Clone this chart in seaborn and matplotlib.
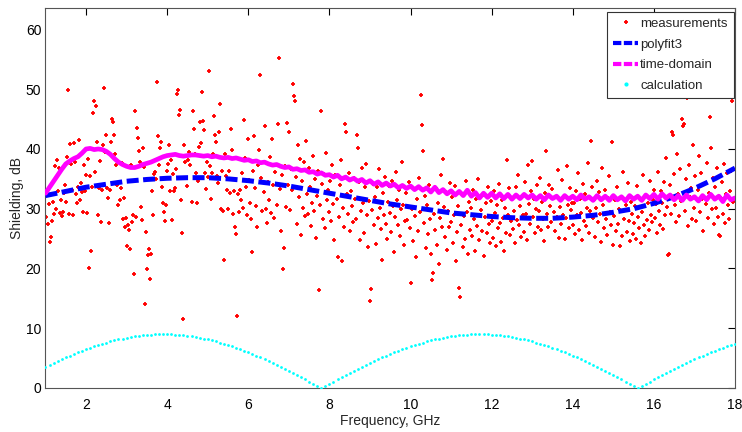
import numpy as np
import pandas as pd
import matplotlib
matplotlib.use("Agg")
import matplotlib.pyplot as plt
import seaborn as sns
from matplotlib.lines import Line2D

# ---------------- data ----------------
meas_start, meas_step = 1.0, 0.025
measurements = [
    27.4, 28.6, 27.5, 30.8, 24.4, 25.3, 28.0, 31.2, 29.1, 37.2, 30.0, 38.2, 33.0, 36.8, 29.3, 31.5, 28.8, 29.4, 32.6, 33.9,
    31.2, 38.6, 49.9, 29.2, 40.8, 37.5, 33.1, 29.0, 41.0, 37.9, 32.4, 30.9, 33.6, 41.5, 31.4, 34.3, 32.8, 29.4, 37.4, 33.0,
    35.6, 29.3, 38.4, 20.1, 35.4, 23.0, 33.7, 46.1, 48.1, 36.2, 47.2, 41.2, 28.9, 33.4, 38.0, 27.8, 33.1, 40.6, 50.2, 39.5,
    42.3, 33.5, 31.8, 27.6, 33.2, 41.1, 45.0, 44.5, 42.4, 39.2, 37.3, 34.0, 30.6, 31.5, 33.4, 37.6, 28.2, 31.8, 27.0, 28.4,
    23.8, 27.2, 26.4, 23.3, 37.4, 27.7, 29.0, 19.0, 46.3, 28.7, 43.5, 41.8, 39.6, 37.8, 30.3, 28.1, 40.2, 37.0, 14.1, 26.1,
    19.9, 22.2, 23.2, 18.3, 22.4, 33.0, 28.9, 35.8, 36.1, 34.9, 51.2, 42.2, 37.3, 40.1, 41.2, 33.6, 31.0, 29.4, 28.0, 30.6,
    36.3, 37.5, 40.6, 33.0, 38.1, 28.1, 35.8, 32.9, 33.5, 36.7, 49.2, 49.9, 45.7, 46.6, 31.5, 26.0, 11.6, 40.6, 37.8, 35.2,
    33.8, 38.2, 39.5, 37.4, 31.2, 46.4, 43.4, 39.2, 35.9, 31.0, 34.6, 40.4, 44.5, 41.0, 49.5, 44.7, 43.1, 36.0, 33.3, 37.8,
    35.3, 53.1, 37.2, 31.6, 35.9, 39.1, 45.5, 42.4, 41.2, 35.4, 34.3, 42.8, 47.5, 30.0, 36.4, 29.7, 21.4, 39.2, 35.5, 33.1,
    29.9, 36.3, 32.6, 43.4, 39.9, 29.2, 33.0, 27.0, 25.8, 12.1, 32.4, 29.4, 33.1, 31.4, 36.0, 30.2, 44.9, 38.5, 33.6, 29.0,
    41.6, 34.8, 31.0, 28.2, 22.7, 36.4, 42.1, 33.5, 30.4, 26.9, 37.3, 39.8, 52.4, 35.1, 29.6, 32.8, 43.9, 30.0, 27.6, 34.5,
    31.4, 38.6, 29.3, 41.7, 33.9, 28.5, 36.2, 63.8, 30.7, 44.1, 55.2, 33.3, 26.2, 35.6, 19.9, 23.4, 37.2, 30.3, 44.4, 34.0,
    42.8, 29.8, 36.7, 33.1, 50.9, 48.9, 48.1, 35.3, 27.4, 40.7, 31.9, 38.4, 25.6, 34.7, 30.1, 37.9, 28.8, 41.3, 32.5, 29.1,
    36.9, 33.6, 27.1, 31.0, 38.8, 29.7, 34.9, 25.1, 32.2, 36.3, 16.4, 30.6, 46.3, 34.1, 28.3, 35.8, 26.7, 39.4, 31.5, 33.2,
    29.4, 34.6, 27.9, 37.3, 30.8, 24.8, 35.6, 31.7, 21.9, 28.6, 33.9, 38.1, 21.3, 30.2, 27.0, 44.2, 42.8, 32.4, 29.1, 36.0,
    26.3, 33.0, 30.5, 27.8, 35.2, 31.6, 28.2, 42.4, 40.2, 34.4, 24.7, 29.6, 36.8, 30.9, 26.0, 33.7, 37.5, 28.9, 23.6, 31.3,
    14.6, 16.5, 29.8, 34.1, 27.2, 31.9, 24.1, 33.6, 28.4, 36.6, 30.2, 26.6, 21.4, 32.7, 29.0, 35.3, 27.5, 24.9, 31.1, 33.8,
    29.3, 26.1, 34.7, 30.5, 22.8, 28.7, 36.2, 31.4, 27.3, 33.1, 25.5, 29.9, 37.8, 30.7, 23.9, 27.9, 32.6, 28.1, 34.4, 26.7,
    17.6, 30.0, 24.6, 33.3, 28.8, 21.9, 31.7, 26.2, 35.1, 29.4, 49.0, 44.0, 39.6, 27.6, 32.1, 23.4, 30.6, 25.8, 34.0, 28.3,
    22.5, 18.1, 19.3, 29.2, 26.4, 33.5, 24.0, 31.0, 20.7, 28.5, 35.7, 27.0, 38.4, 30.3, 25.2, 32.8, 23.1, 29.7, 26.9, 34.3,
    27.7, 31.9, 24.3, 29.0, 33.8, 21.2, 26.1, 30.4, 16.8, 15.2, 27.3, 32.5, 23.6, 28.8, 25.0, 34.6, 29.5, 22.4, 31.2, 26.5,
    30.1, 25.4, 33.2, 28.2, 23.0, 31.6, 27.1, 35.0, 24.7, 29.8, 26.3, 32.3, 22.1, 28.6, 30.9, 25.9, 33.7, 27.4, 24.2, 31.3,
    28.0, 25.1, 32.9, 29.3, 23.7, 30.7, 26.8, 34.1, 27.6, 24.5, 31.5, 28.4, 22.9, 30.2, 26.0, 38.1, 29.0, 33.4, 25.6, 27.9,
    31.8, 26.6, 29.6, 24.2, 33.6, 28.1, 35.7, 27.2, 30.4, 25.3, 32.0, 28.9, 26.1, 34.5, 29.2, 24.8, 37.4, 30.8, 27.5, 33.0,
    38.0, 28.6, 31.7, 25.9, 30.0, 33.9, 27.0, 29.7, 35.2, 26.4, 31.1, 28.3, 24.6, 32.6, 39.6, 29.1, 26.9, 34.0, 30.5, 27.8,
    33.3, 29.5, 26.2, 31.9, 28.7, 36.5, 25.1, 30.3, 27.4, 34.8, 29.0, 32.2, 24.9, 28.4, 37.2, 30.7, 26.7, 33.5, 29.8, 31.0,
    27.3, 30.9, 25.7, 33.0, 28.9, 35.9, 26.5, 31.6, 29.3, 24.7, 34.2, 28.0, 32.4, 27.1, 30.1, 37.6, 26.0, 29.6, 41.3, 33.7,
    28.5, 31.4, 25.3, 30.2, 34.6, 27.7, 32.8, 29.1, 24.4, 36.8, 30.6, 26.8, 33.1, 28.2, 25.6, 31.8, 35.4, 29.4, 27.2, 41.2,
    24.0, 28.8, 31.5, 26.3, 33.6, 27.5, 29.9, 23.8, 32.0, 25.4, 36.1, 28.3, 30.7, 26.1, 34.3, 27.9, 24.6, 31.1, 29.2, 25.8,
    27.6, 30.4, 25.0, 33.8, 28.6, 26.7, 31.7, 24.3, 29.5, 35.6, 27.2, 25.5, 32.3, 28.1, 30.9, 26.4, 34.7, 29.0, 27.8, 31.4,
    33.1, 28.4, 30.8, 25.9, 36.2, 29.7, 27.3, 32.9, 31.0, 26.6, 34.5, 28.9, 38.5, 30.3, 22.2, 22.5, 33.9, 29.1, 42.9, 42.4,
    35.8, 30.6, 27.7, 39.1, 32.4, 28.8, 36.7, 31.3, 45.0, 43.8, 44.2, 29.6, 34.9, 48.6, 27.1, 37.3, 31.9, 33.5, 28.3, 40.6,
    30.2, 35.4, 27.9, 33.2, 38.8, 29.4, 36.0, 31.6, 26.2, 34.1, 49.0, 30.8, 37.7, 28.5, 32.7, 45.3, 40.2, 29.9, 35.2, 27.4,
    33.6, 30.1, 36.9, 28.7, 25.6, 25.4, 31.8, 34.4, 29.2, 37.5, 27.6, 32.5, 35.9, 30.7, 28.2, 33.0, 36.4, 48.1, 31.2, 62.3,
    31.5,
]

fit_freq = [1.0, 1.5, 2.0, 2.5, 3.0, 3.5, 4.0, 4.5, 5.0, 5.5, 6.0, 6.5, 7.0, 7.5, 8.0, 8.5, 9.0,
            9.5, 10.0, 10.5, 11.0, 11.5, 12.0, 12.5, 13.0, 13.5, 14.0, 14.5, 15.0, 15.5, 16.0,
            16.5, 17.0, 17.5, 18.0]
polyfit3 = [32.2, 32.9, 33.6, 34.1, 34.6, 34.9, 35.1, 35.2, 35.2, 35.0, 34.7, 34.3, 33.8, 33.2,
            32.6, 32.0, 31.4, 30.8, 30.3, 29.8, 29.3, 29.0, 28.7, 28.5, 28.4, 28.4, 28.6, 28.9,
            29.4, 30.0, 30.9, 32.0, 33.4, 35.0, 36.8]

grid_start, grid_step = 1.0, 0.1
time_domain = [
    32.6, 33.6, 34.6, 35.6, 36.6, 37.5, 38.0, 38.4, 38.7, 39.3,
    40.0, 40.1, 39.9, 40.0, 39.9, 39.6, 39.1, 38.4, 37.8, 37.4,
    37.1, 36.9, 36.9, 37.1, 37.4, 37.6, 37.8, 38.1, 38.4, 38.7,
    38.9, 39.0, 39.1, 38.9, 38.8, 38.9, 39.0, 39.0, 38.9, 38.8,
    38.9, 38.7, 38.8, 38.6, 38.5, 38.6, 38.4, 38.5, 38.3, 38.1,
    38.2, 37.9, 38.0, 37.7, 37.8, 37.5, 37.3, 37.4, 37.1, 36.9,
    37.0, 36.6, 36.7, 36.4, 36.5, 36.1, 36.2, 35.8, 36.0, 35.6,
    35.7, 35.3, 35.6, 35.0, 35.3, 34.8, 35.1, 34.6, 34.9, 34.3,
    34.7, 34.1, 34.5, 33.9, 34.3, 33.8, 34.1, 33.5, 33.9, 33.4,
    33.8, 33.2, 33.7, 33.1, 33.5, 32.8, 33.6, 32.7, 33.2, 32.5,
    33.0, 32.3, 32.9, 32.2, 33.1, 32.1, 32.7, 31.8, 32.6, 31.9,
    32.6, 31.8, 32.5, 31.7, 32.4, 31.6, 32.3, 31.7, 32.4, 31.8,
    32.3, 31.6, 32.2, 31.5, 32.3, 31.7, 32.1, 31.4, 32.2, 31.6,
    32.1, 31.5, 32.3, 31.6, 32.0, 31.4, 32.2, 31.5, 32.1, 31.4,
    32.2, 31.5, 32.0, 31.3, 32.2, 31.6, 32.1, 31.4, 32.3, 31.7,
    32.4, 31.6, 32.5, 31.8, 32.3, 31.5, 32.2, 31.4, 32.3, 31.6,
    32.0, 31.3, 32.2, 31.5, 32.4, 31.6, 32.1, 31.2, 32.3, 31.5,
    31.8,
]

calculation = [
    3.53, 3.86, 4.18, 4.50, 4.81, 5.11, 5.41, 5.69, 5.97, 6.23,
    6.49, 6.74, 6.97, 7.19, 7.41, 7.61, 7.79, 7.97, 8.13, 8.28,
    8.42, 8.54, 8.64, 8.74, 8.82, 8.88, 8.93, 8.97, 8.99, 9.00,
    8.99, 8.97, 8.93, 8.88, 8.82, 8.74, 8.64, 8.54, 8.42, 8.28,
    8.13, 7.97, 7.79, 7.61, 7.41, 7.19, 6.97, 6.74, 6.49, 6.23,
    5.97, 5.69, 5.41, 5.11, 4.81, 4.50, 4.18, 3.86, 3.53, 3.19,
    2.85, 2.50, 2.15, 1.80, 1.44, 1.08, 0.72, 0.36, 0.00,
    0.36, 0.72, 1.08, 1.44, 1.80, 2.15, 2.50, 2.85, 3.19, 3.53,
    3.86, 4.18, 4.50, 4.81, 5.11, 5.41, 5.69, 5.97, 6.23, 6.49,
    6.74, 6.97, 7.19, 7.41, 7.61, 7.79, 7.97, 8.13, 8.28, 8.42,
    8.54, 8.64, 8.74, 8.82, 8.88, 8.93, 8.97, 8.99, 9.00,
    8.99, 8.97, 8.93, 8.88, 8.82, 8.74, 8.64, 8.54, 8.42, 8.28,
    8.13, 7.97, 7.79, 7.61, 7.41, 7.19, 6.97, 6.74, 6.49, 6.23,
    5.97, 5.69, 5.41, 5.11, 4.81, 4.50, 4.18, 3.86, 3.53, 3.19,
    2.85, 2.50, 2.15, 1.80, 1.44, 1.08, 0.72, 0.36, 0.00,
    0.36, 0.72, 1.08, 1.44, 1.80, 2.15, 2.50, 2.85, 3.19, 3.53,
    3.86, 4.18, 4.50, 4.81, 5.11, 5.41, 5.69, 5.97, 6.23, 6.49,
    6.74, 6.97, 7.19, 7.41,
]

x_ticks = [2, 4, 6, 8, 10, 12, 14, 16, 18]
y_ticks = [0, 10, 20, 30, 40, 50, 60]
labels = ["measurements", "polyfit3", "time-domain", "calculation"]

# ---------------- frames ----------------
meas_df = pd.DataFrame({
    "freq": np.round(meas_start + meas_step * np.arange(len(measurements)), 4),
    "val": measurements})
fit_df = pd.DataFrame({"freq": fit_freq, "val": polyfit3})
td_df = pd.DataFrame({
    "freq": np.round(grid_start + grid_step * np.arange(len(time_domain)), 4),
    "val": time_domain})
calc_df = pd.DataFrame({
    "freq": np.round(grid_start + grid_step * np.arange(len(calculation)), 4),
    "val": calculation})

# ---------------- plot ----------------
sns.set_style("white")
plt.rcParams["font.family"] = ["Liberation Sans", "DejaVu Sans"]

fig = plt.figure(figsize=(7.42, 4.32), dpi=100)
ax = fig.add_axes([0.0613, 0.1019, 0.9293, 0.8796])

sns.scatterplot(data=meas_df, x="freq", y="val", ax=ax, marker="+", s=9,
                color="#ff0000", linewidth=1.3, zorder=2, legend=False)
sns.lineplot(data=fit_df, x="freq", y="val", ax=ax, color="#0000ff",
             linewidth=3.6, dashes=False, zorder=3, legend=False)
ax.lines[-1].set_dashes((2.4, 0.9))
sns.lineplot(data=td_df, x="freq", y="val", ax=ax, color="#ff00ff",
             linewidth=3.4, zorder=4, legend=False)
sns.scatterplot(data=calc_df, x="freq", y="val", ax=ax, marker="o", s=4.0,
                color="#00ffff", linewidth=0, zorder=5, legend=False)

ax.set_xlim(1, 18)
ax.set_ylim(0, 63.6)
ax.set_xticks(x_ticks)
ax.set_yticks(y_ticks)
ax.set_xlabel("Frequency, GHz", fontsize=10, labelpad=2)
ax.set_ylabel("Shielding, dB", fontsize=10, labelpad=1)
ax.tick_params(axis="both", direction="in", length=5, width=0.8,
               top=True, right=True, labelsize=10, colors="#000000")
ax.tick_params(axis="x", pad=7)
ax.tick_params(axis="y", pad=3)
for sp in ax.spines.values():
    sp.set_color("#555555")
    sp.set_linewidth(0.8)

handles = [
    Line2D([], [], color="#ff0000", marker="+", linestyle="none", markersize=3, markeredgewidth=1.3),
    Line2D([], [], color="#0000ff", linestyle=(0, (2.0, 0.6)), linewidth=3.0),
    Line2D([], [], color="#ff00ff", linestyle=(0, (2.0, 0.6)), linewidth=3.0),
    Line2D([], [], color="#00ffff", marker="o", linestyle="none", markersize=2.0),
]
leg = ax.legend(handles, labels, loc="upper right", bbox_to_anchor=(0.998, 0.99),
                fontsize=9.5, frameon=True, fancybox=False, framealpha=1,
                edgecolor="#333333", handlelength=1.9, handletextpad=0.15,
                borderpad=0.45, labelspacing=0.64, borderaxespad=0.0)
leg.get_frame().set_linewidth(0.8)

fig.savefig("out.png", dpi=100)
